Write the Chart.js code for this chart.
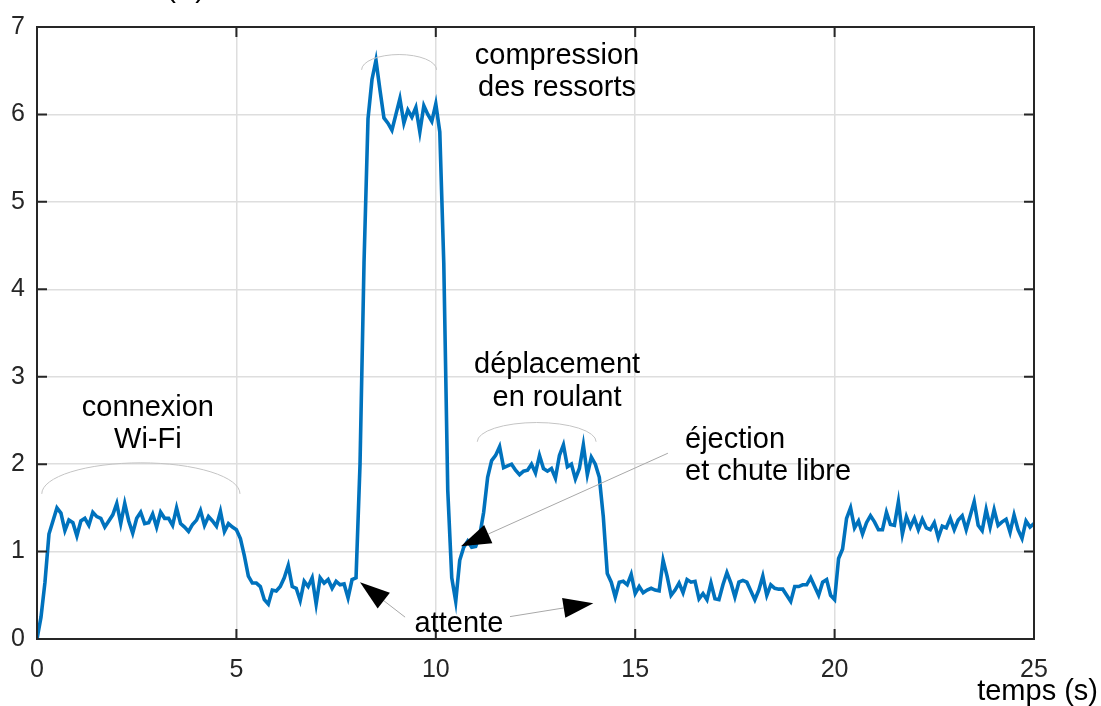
<!DOCTYPE html>
<html>
<head>
<meta charset="utf-8">
<script src="https://cdn.jsdelivr.net/npm/chart.js@4/dist/chart.umd.min.js"></script>
<style>
  body { margin: 0; background: #fff; }
  canvas { display: block; }
</style>
</head>
<body>
<canvas id="graph" width="1101" height="706"></canvas>
<script>
const dt = 0.1; // période d'échantillonnage (s)

// courant mesuré (A), un échantillon tous les 0.1 s de 0 à 25 s
const courant = [
  0, 0.25, 0.65, 1.2, 1.35, 1.5, 1.44, 1.24, 1.36, 1.33,
  1.18, 1.35, 1.38, 1.3, 1.45, 1.4, 1.38, 1.28, 1.35, 1.42,
  1.55, 1.32, 1.55, 1.35, 1.21, 1.38, 1.45, 1.32, 1.33, 1.43,
  1.28, 1.45, 1.38, 1.38, 1.3, 1.5, 1.32, 1.28, 1.23, 1.31,
  1.36, 1.47, 1.3, 1.4, 1.35, 1.29, 1.46, 1.23, 1.32, 1.28,
  1.25, 1.15, 0.95, 0.72, 0.64, 0.64, 0.6, 0.45, 0.4, 0.56,
  0.55, 0.6, 0.7, 0.84, 0.6, 0.58, 0.44, 0.66, 0.6, 0.7,
  0.4, 0.7, 0.64, 0.68, 0.58, 0.66, 0.62, 0.63, 0.47, 0.68,
  0.7, 2.0, 4.3, 5.95, 6.4, 6.62, 6.28, 5.96, 5.9, 5.82,
  6.0, 6.18, 5.9, 6.05, 5.97, 6.08, 5.8, 6.1, 6.0, 5.92,
  6.12, 5.8, 4.3, 1.7, 0.7, 0.43, 0.9, 1.05, 1.12, 1.05,
  1.06, 1.18, 1.45, 1.85, 2.04, 2.1, 2.2, 1.96, 1.98, 2.0,
  1.93, 1.88, 1.92, 1.93, 2.0, 1.9, 2.1, 1.95, 1.92, 1.95,
  1.84, 2.1, 2.22, 1.97, 2.0, 1.83, 1.95, 2.22, 1.88, 2.08,
  2.0, 1.85, 1.4, 0.75, 0.65, 0.48, 0.65, 0.66, 0.62, 0.74,
  0.52, 0.6, 0.53, 0.56, 0.58, 0.56, 0.55, 0.9, 0.72, 0.5,
  0.56, 0.64, 0.53, 0.68, 0.65, 0.66, 0.46, 0.52, 0.45, 0.64,
  0.46, 0.45, 0.62, 0.76, 0.64, 0.48, 0.65, 0.67, 0.65, 0.55,
  0.45, 0.56, 0.72, 0.5, 0.62, 0.58, 0.57, 0.57, 0.5, 0.43,
  0.6, 0.6, 0.62, 0.62, 0.7, 0.6, 0.5, 0.65, 0.68, 0.5,
  0.45, 0.92, 1.03, 1.38, 1.5, 1.27, 1.35, 1.2, 1.33, 1.41,
  1.34, 1.25, 1.25, 1.45, 1.31, 1.3, 1.57, 1.2, 1.4, 1.28,
  1.38, 1.25, 1.37, 1.27, 1.25, 1.33, 1.16, 1.29, 1.27, 1.38,
  1.25, 1.36, 1.41, 1.25, 1.41, 1.57, 1.3, 1.24, 1.48, 1.28,
  1.48, 1.3, 1.34, 1.37, 1.22, 1.42, 1.25, 1.15, 1.35, 1.28,
  1.32
];
const temps = courant.map((_, i) => Math.round(i * dt * 10) / 10);

const xTicks = [0, 5, 10, 15, 20, 25];
const yTicks = [0, 1, 2, 3, 4, 5, 6, 7];

// textes d'annotation (t, courant de la ligne de base)
const textes = [
  { txt: 'connexion', t: 2.78, v: 2.545, align: 'center' },
  { txt: 'Wi-Fi', t: 2.78, v: 2.18, align: 'center' },
  { txt: 'compression', t: 13.04, v: 6.58, align: 'center' },
  { txt: 'des ressorts', t: 13.04, v: 6.216, align: 'center' },
  { txt: 'déplacement', t: 13.04, v: 3.045, align: 'center' },
  { txt: 'en roulant', t: 13.04, v: 2.67, align: 'center' },
  { txt: 'éjection', t: 16.25, v: 2.18, align: 'left' },
  { txt: 'et chute libre', t: 16.25, v: 1.818, align: 'left' },
  { txt: 'attente', t: 10.58, v: 0.08, align: 'center' }
];
// accolades arrondies au-dessus des phases
const arcs = [
  { t0: 0.12, t1: 5.09, v: 1.66, h: 0.355 },
  { t0: 8.14, t1: 10.02, v: 6.51, h: 0.175 },
  { t0: 11.04, t1: 14.02, v: 2.256, h: 0.22 }
];
// flèches : de (t0, v0) vers la pointe (t1, v1)
const fleches = [
  { t0: 15.82, v0: 2.125, t1: 10.63, v1: 1.06 },
  { t0: 9.23, v0: 0.25, t1: 8.1, v1: 0.648 },
  { t0: 11.86, v0: 0.256, t1: 13.95, v1: 0.41 }
];

const police = "'Liberation Sans', Arial, sans-serif";

const decor = {
  id: 'decor',
  afterDraw(chart) {
    const { ctx, chartArea: a, scales: { x, y } } = chart;
    ctx.save();

    // cadre et graduations intérieures
    ctx.strokeStyle = '#262626';
    ctx.lineWidth = 2;
    ctx.beginPath();
    xTicks.forEach(v => {
      const px = x.getPixelForValue(v);
      ctx.moveTo(px, a.bottom); ctx.lineTo(px, a.bottom - 10);
      ctx.moveTo(px, a.top); ctx.lineTo(px, a.top + 10);
    });
    yTicks.forEach(v => {
      const py = y.getPixelForValue(v);
      ctx.moveTo(a.left, py); ctx.lineTo(a.left + 10, py);
      ctx.moveTo(a.right, py); ctx.lineTo(a.right - 10, py);
    });
    ctx.stroke();
    ctx.strokeRect(a.left, a.top, a.right - a.left, a.bottom - a.top);

    // arcs
    ctx.strokeStyle = '#c4c4c4';
    ctx.lineWidth = 1;
    arcs.forEach(c => {
      const x0 = x.getPixelForValue(c.t0), x1 = x.getPixelForValue(c.t1);
      const cy = y.getPixelForValue(c.v);
      const ry = cy - y.getPixelForValue(c.v + c.h);
      ctx.beginPath();
      ctx.ellipse((x0 + x1) / 2, cy, (x1 - x0) / 2, ry, 0, Math.PI, 2 * Math.PI);
      ctx.stroke();
    });

    // flèches
    fleches.forEach(f => {
      const xa = x.getPixelForValue(f.t0), ya = y.getPixelForValue(f.v0);
      const xb = x.getPixelForValue(f.t1), yb = y.getPixelForValue(f.v1);
      const ang = Math.atan2(yb - ya, xb - xa);
      const len = 30, half = 10;
      const bx = xb - len * Math.cos(ang), by = yb - len * Math.sin(ang);
      ctx.strokeStyle = '#a8a8a8';
      ctx.lineWidth = 1;
      ctx.beginPath();
      ctx.moveTo(xa, ya); ctx.lineTo(bx, by);
      ctx.stroke();
      ctx.fillStyle = '#000';
      ctx.beginPath();
      ctx.moveTo(xb, yb);
      ctx.lineTo(bx + half * Math.sin(ang), by - half * Math.cos(ang));
      ctx.lineTo(bx - half * Math.sin(ang), by + half * Math.cos(ang));
      ctx.closePath();
      ctx.fill();
    });

    // textes
    ctx.fillStyle = '#000';
    ctx.font = '29px ' + police;
    ctx.textBaseline = 'alphabetic';
    textes.forEach(o => {
      ctx.textAlign = o.align;
      ctx.fillText(o.txt, x.getPixelForValue(o.t), y.getPixelForValue(o.v));
    });

    // titre de l'axe x et étiquette (coupée) de l'axe y
    ctx.textAlign = 'right';
    ctx.fillText('temps (s)', a.right + 64, a.bottom + 61);
    ctx.fillText('courant (A)', a.left + 168, a.top - 30);

    ctx.restore();
  }
};

new Chart(document.getElementById('graph'), {
  type: 'line',
  data: {
    datasets: [{
      data: courant.map((v, i) => ({ x: temps[i], y: v })),
      borderColor: '#0072BD',
      borderWidth: 3.6,
      pointRadius: 0,
      tension: 0
    }]
  },
  options: {
    responsive: false,
    animation: false,
    devicePixelRatio: 1,
    layout: { padding: { left: 0, right: 67, top: 23, bottom: 0 } },
    plugins: { legend: { display: false }, tooltip: { enabled: false } },
    scales: {
      x: {
        type: 'linear',
        min: 0,
        max: 25,
        afterBuildTicks: s => { s.ticks = xTicks.map(v => ({ value: v })); },
        afterFit: s => { s.height = 67; },
        grid: { color: '#dedede', lineWidth: 1.5, drawTicks: false },
        border: { display: false },
        ticks: { padding: 16, color: '#262626', font: { family: police, size: 25 } }
      },
      y: {
        min: 0,
        max: 7,
        afterBuildTicks: s => { s.ticks = yTicks.map(v => ({ value: v })); },
        afterFit: s => { s.width = 37; },
        grid: { color: '#dedede', lineWidth: 1.5, drawTicks: false },
        border: { display: false },
        ticks: { padding: 12, color: '#262626', font: { family: police, size: 25 } }
      }
    }
  },
  plugins: [decor]
});
</script>
</body>
</html>
